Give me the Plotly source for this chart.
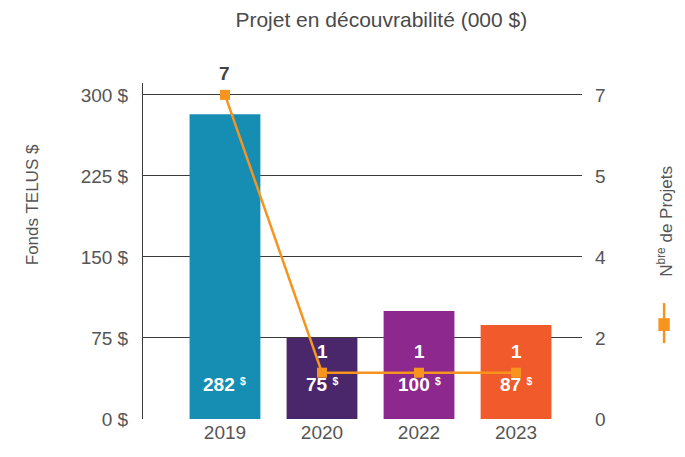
import plotly.graph_objects as go

# ── Data ─────────────────────────────────────────────
years = ["2019", "2020", "2022", "2023"]
fonds = [282, 75, 100, 87]          # 000 $
projets = [7, 1, 1, 1]
bar_colors = ["#168eb4", "#4a276a", "#8d288f", "#f15a2b"]
left_ticks = [0, 75, 150, 225, 300]
right_ticktext = ["0", "2", "4", "5", "7"]

LINE_CLR = "#f7941e"
TXT_CLR = "#555555"
GRID_CLR = "#3a3a3a"
FONT = "Liberation Sans, Arial, sans-serif"

Y_MAX = 311
Y2_MAX = 7 * Y_MAX / 300

fig = go.Figure()

fig.add_trace(go.Bar(
    x=years, y=fonds,
    marker=dict(color=bar_colors, line=dict(width=0)),
    width=0.73,
    showlegend=False,
    hoverinfo="skip",
))

fig.add_trace(go.Scatter(
    x=years, y=projets,
    yaxis="y2",
    mode="lines+markers",
    line=dict(color=LINE_CLR, width=2.5),
    marker=dict(symbol="square", size=10, color=LINE_CLR),
    showlegend=False,
    hoverinfo="skip",
))

# value labels inside the bars
for i, v in enumerate(fonds):
    fig.add_annotation(
        x=i, xref="x", y=0, yref="y", yanchor="bottom", yshift=22,
        text=f"<b>{v} <span style='font-size:15px'><sup>$</sup></span></b>", showarrow=False,
        font=dict(color="white", size=19, family=FONT),
    )

# project counts above each point
for i, n in enumerate(projets):
    fig.add_annotation(
        x=i, xref="x", y=n, yref="y2", yanchor="bottom", yshift=9,
        text=f"<b>{n}</b>", showarrow=False,
        font=dict(color="#444444" if n > 1 else "white", size=19, family=FONT),
    )

# axis titles
fig.add_annotation(
    xref="paper", yref="paper", x=-0.25, y=0.637, xanchor="center", yanchor="middle",
    text="Fonds TELUS $", textangle=-90, showarrow=False,
    font=dict(color=TXT_CLR, size=17, family=FONT),
)
fig.add_annotation(
    xref="paper", yref="paper", x=1.189, y=0.59, xanchor="center", yanchor="middle",
    text="N<sup>bre</sup> de Projets", textangle=-90, showarrow=False,
    font=dict(color=TXT_CLR, size=17, family=FONT),
)

# legend symbol on the right (vertical line with square)
fig.add_shape(type="line", xref="paper", yref="paper",
              x0=1.187, x1=1.187, y0=0.226, y1=0.345,
              line=dict(color=LINE_CLR, width=2.5))
fig.add_shape(type="rect", xref="paper", yref="paper",
              x0=1.174, x1=1.200, y0=0.262, y1=0.30,
              line=dict(width=0), fillcolor=LINE_CLR)

fig.update_layout(
    width=685, height=457,
    paper_bgcolor="white", plot_bgcolor="white",
    margin=dict(l=135, r=111, t=75, b=46),
    font=dict(family=FONT, color=TXT_CLR, size=16),
    title=dict(text="Projet en découvrabilité (000 $)", x=0.545, xanchor="center",
               y=0.974, yanchor="middle", font=dict(size=21, color="#4a4a4a")),
    xaxis=dict(
        type="category", range=[-0.845, 3.68],
        showgrid=False, zeroline=False, showline=False,
        tickfont=dict(size=19, color=TXT_CLR),
    ),
    yaxis=dict(
        range=[0, Y_MAX], tickvals=left_ticks,
        ticktext=[f"{t} $" for t in left_ticks],
        showgrid=True, gridcolor=GRID_CLR, gridwidth=1,
        zeroline=False, showline=True, linecolor=GRID_CLR, linewidth=1,
        ticklabelstandoff=10,
        tickfont=dict(size=19, color=TXT_CLR),
    ),
    yaxis2=dict(
        overlaying="y", side="right",
        range=[0, Y2_MAX], tickvals=[0, 1.75, 3.5, 5.25, 7],
        ticktext=right_ticktext,
        showgrid=False, zeroline=False, showline=False,
        ticklabelstandoff=12,
        tickfont=dict(size=19, color=TXT_CLR),
    ),
)

fig.write_html("out.html")
